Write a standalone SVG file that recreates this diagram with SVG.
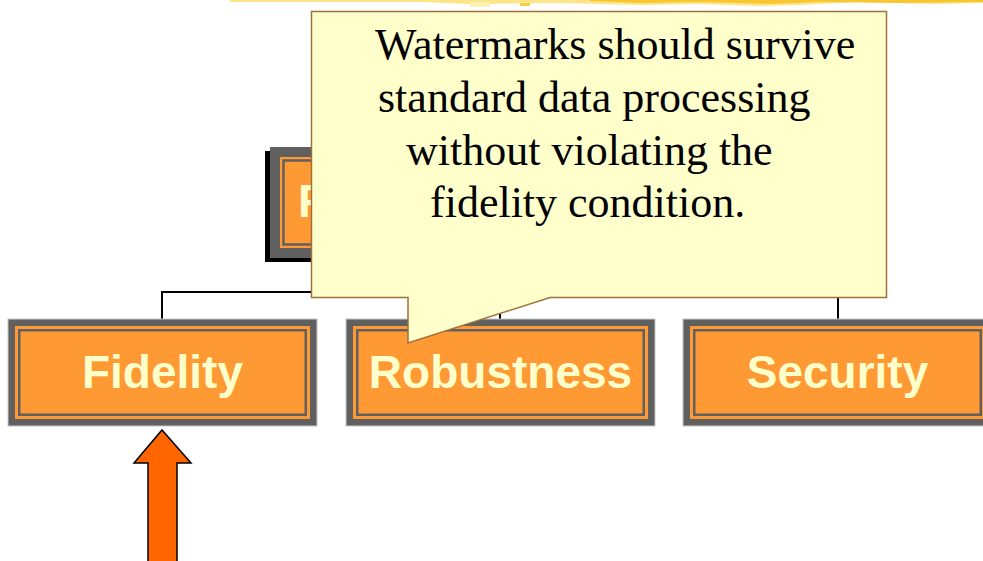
<svg xmlns="http://www.w3.org/2000/svg" width="983" height="561" viewBox="0 0 983 561">
<style>
.outer{fill:#606060;stroke:#c8c8c8;stroke-width:1}
.band{fill:#ff9933}
.inner{fill:none;stroke:#606060;stroke-width:2.5}
.lbl{font-family:"Liberation Sans",Arial,sans-serif;font-weight:bold;font-size:46px;fill:#ffffcc;text-anchor:middle}
.conn{fill:none;stroke:#000;stroke-width:2}
.call{font-family:"Liberation Serif","Times New Roman",serif;font-size:44px;fill:#000}
</style>
<rect width="983" height="561" fill="#fff"/>
<g id="brush">
<polygon points="230,0 983,0 983,3 930,4 860,2 800,5 760,6 700,4 640,5 560,3 470,4 420,2 300,2 230,2" fill="#fde68a"/>
<polygon points="590,0 983,0 983,2 900,3 820,2 770,4 700,2 640,3 590,1" fill="#f8c630"/>
<rect x="470" y="2" width="20" height="5" fill="#fff0b0"/>
<rect x="520" y="3" width="10" height="3" fill="#f5d040"/>
</g>
<g id="connectors">
<polyline class="conn" points="162,319 162,292 838,292 838,319"/>
<line class="conn" x1="500" y1="292" x2="500" y2="319"/>
</g>
<g id="root">
<rect x="265" y="151" width="460" height="111" fill="#000"/>
<rect x="270" y="147" width="460" height="111" fill="#606060"/>
<rect class="band" x="280" y="157" width="440" height="91"/>
<rect class="inner" x="283.5" y="160.5" width="433" height="84"/>
<text class="lbl" x="298" y="217" style="text-anchor:start">F</text>
</g>
<g id="fidelity">
<rect class="outer" x="8" y="319" width="309" height="107"/>
<rect class="band" x="15" y="326" width="295" height="93"/>
<rect class="inner" x="19.25" y="330.25" width="286.5" height="84.5"/>
<text class="lbl" x="162.5" y="388">Fidelity</text>
</g>
<g id="robustness">
<rect class="outer" x="346" y="319" width="309" height="107"/>
<rect class="band" x="353" y="326" width="295" height="93"/>
<rect class="inner" x="357.25" y="330.25" width="286.5" height="84.5"/>
<text class="lbl" x="500.5" y="388">Robustness</text>
</g>
<g id="security">
<rect class="outer" x="683" y="319" width="309" height="107"/>
<rect class="band" x="690" y="326" width="295" height="93"/>
<rect class="inner" x="694.25" y="330.25" width="286.5" height="84.5"/>
<text class="lbl" x="837.5" y="388">Security</text>
</g>
<g id="callout">
<path d="M311.5,11.5 H886.5 V297.5 H550 L408,343 V297.5 H311.5 Z" fill="#ffffcc" stroke="#a0703c" stroke-width="1.5"/>
<text class="call" x="375" y="59">Watermarks should survive</text>
<text class="call" x="378" y="112">standard data processing</text>
<text class="call" x="406" y="165">without violating the</text>
<text class="call" x="430" y="217">fidelity condition.</text>
</g>
<g id="arrow">
<polygon points="162,430 191,463 177,463 177,562 148,562 148,463 134,463" fill="#ff6600" stroke="#000" stroke-width="1.5"/>
</g>
</svg>
